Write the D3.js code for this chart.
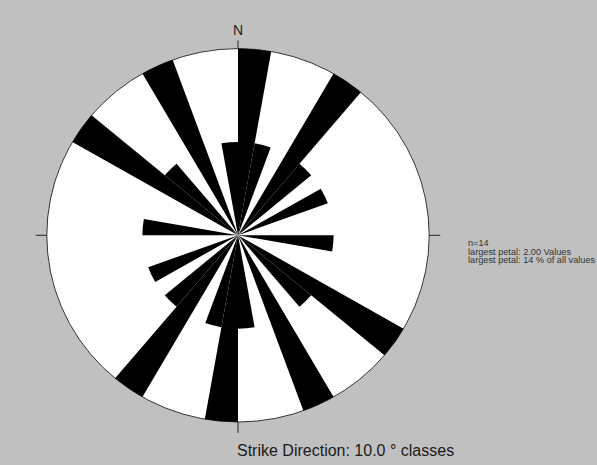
<!DOCTYPE html>
<html>
<head>
<meta charset="utf-8">
<script src="https://cdn.jsdelivr.net/npm/d3@7"></script>
<style>
  html, body { margin: 0; padding: 0; background: #c0c0c0; }
  svg { display: block; font-family: Arial, "Liberation Sans", sans-serif; }
</style>
</head>
<body>
<svg width="597" height="465"></svg>
<script>
  // strike classes, 10 degrees each, 0-180 (mirrored to 180-360)
  const classStart = [0, 10, 20, 30, 40, 50, 60, 70, 80, 90, 100, 110, 120, 130, 140, 150, 160, 170];
  const counts     = [2, 1, 0, 2, 1, 0, 1, 0, 0, 1, 0, 0, 2, 1, 0, 2, 0, 1];
  const classWidth = 10;
  const nValues = 14;
  const infoLines = ['n=14', 'largest petal: 2.00 Values', 'largest petal: 14 % of all values'];
  const title = 'Strike Direction: 10.0 \u00b0 classes';

  const svg = d3.select('svg');
  const cx = 238, cy = 235.3;
  const R = 191.2, ky = 186.7 / 191.2;

  svg.append('rect').attr('width', 597).attr('height', 465).attr('fill', '#c0c0c0');

  const r = d3.scaleLinear().domain([0, d3.max(counts)]).range([0, R]);
  const toRad = d => d * Math.PI / 180;

  // petals, both directions
  const petals = [];
  classStart.forEach((a, i) => {
    if (counts[i] > 0) {
      petals.push({a0: a, a1: a + classWidth, v: counts[i]});
      petals.push({a0: a + 180, a1: a + 180 + classWidth, v: counts[i]});
    }
  });

  const plot = svg.append('g')
    .attr('transform', `translate(${cx},${cy}) scale(1,${ky})`);

  plot.append('circle')
    .attr('r', R)
    .attr('fill', '#ffffff')
    .attr('stroke', '#333')
    .attr('stroke-width', 1)
    .attr('vector-effect', 'non-scaling-stroke');

  const arc = d3.arc()
    .innerRadius(0)
    .outerRadius(d => r(d.v))
    .startAngle(d => toRad(d.a0))
    .endAngle(d => toRad(d.a1));

  plot.selectAll('path.petal')
    .data(petals)
    .enter()
    .append('path')
      .attr('class', 'petal')
      .attr('d', arc)
      .attr('fill', '#000');

  // ticks at N, E, S, W
  const tk = [
    [cx, cy - R * ky - 8, cx, cy - R * ky],
    [cx, cy + R * ky, cx, cy + R * ky + 11],
    [cx - R - 11, cy, cx - R, cy],
    [cx + R, cy, cx + R + 11, cy]
  ];
  svg.selectAll('line.tick')
    .data(tk)
    .enter()
    .append('line')
      .attr('class', 'tick')
      .attr('x1', d => d[0]).attr('y1', d => d[1])
      .attr('x2', d => d[2]).attr('y2', d => d[3])
      .attr('stroke', '#222')
      .attr('stroke-width', 1);

  svg.append('text')
    .attr('x', cx)
    .attr('y', 35)
    .attr('text-anchor', 'middle')
    .style('font-size', '14px')
    .style('fill', '#222')
    .text('N');

  svg.selectAll('text.info')
    .data(infoLines)
    .enter()
    .append('text')
      .attr('class', 'info')
      .attr('x', 468)
      .attr('y', (d, i) => 246 + i * 8.7)
      .style('font-size', '9.2px')
      .style('fill', '#333')
      .text(d => d);

  svg.append('text')
    .attr('x', 237)
    .attr('y', 456)
    .style('font-size', '16px')
    .style('fill', '#1a1a1a')
    .text(title);
</script>
</body>
</html>
